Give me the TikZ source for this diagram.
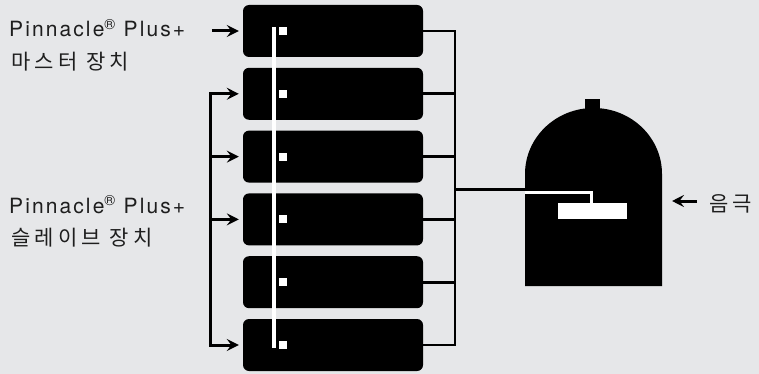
\documentclass[tikz,border=0pt]{standalone}
\usepackage{fontspec}
\setmainfont{TeX Gyre Heros}[LetterSpace=10]
\newfontfamily\kofont{Noto Sans CJK KR}[LetterSpace=20]
\usetikzlibrary{arrows.meta,positioning}
\definecolor{panel}{HTML}{E6E7E9}
\definecolor{ink}{HTML}{1E1E1E}
\tikzset{
  unit/.style={fill=black, rounded corners=6pt, minimum width=180pt, minimum height=52pt, inner sep=0pt},
  pad/.style={fill=white, minimum size=8pt, inner sep=0pt},
  feed/.style={-{Stealth[length=12pt,width=12pt,inset=4.5pt]}, line width=3pt, shorten >=4pt},
  pointer/.style={-{Stealth[length=12pt,width=12pt,inset=4.5pt]}, line width=3pt},
  wire/.style={line width=2.8pt},
  tag/.style={anchor=base west, inner sep=0pt, text=ink, font=\fontsize{21}{23}\selectfont},
  kotag/.style={anchor=base west, inner sep=0pt, text=ink, font=\kofont\fontsize{21}{23}\selectfont}
}

\begin{document}
\begin{tikzpicture}[x=1pt,y=-1pt]
  \fill[panel] (0,0) rectangle (759,374);
  \useasboundingbox (0,0) rectangle (759,374);

  % stack of units, master on top
  \foreach \i in {1,...,6}
    \node[unit] (u\i) at (333,{31+62.8*(\i-1)}) {};

  % riser running down through the stack
  \draw[white, line width=4pt] (274,27) -- (274,348);
  \foreach \i in {1,...,6}
    \node[pad] (p\i) at ([xshift=40pt]u\i.west) {};

  % bus on the right
  \coordinate (bus) at (455,0);
  \draw[wire] (u1.east) -| (u6.east -| bus) -- (u6.east);
  \foreach \i in {2,...,5}
    \draw[wire] (u\i.east) -- (u\i.east -| bus);

  % feeds on the left
  \coordinate (rail) at (210,0);
  \coordinate (mfeed) at ([xshift=-31pt]u1.west);
  \draw[feed] (mfeed) -- (u1.west);
  \draw[feed] (u6.west -| rail) |- (u2.west);
  \draw[feed] (u5.west -| rail) |- (u6.west);
  \foreach \i in {3,4}
    \draw[feed] (u\i.west -| rail) -- (u\i.west);

  % cathode
  \fill (525,286) -- (525,174) arc[start angle=180, end angle=360, x radius=68.5, y radius=66] -- (662,286) -- cycle;
  \fill (585,99) rectangle (600,110);
  \coordinate (tap) at (455,189.5);
  \coordinate (cath) at (525,189.5);
  \draw[wire] (tap) -- (cath);
  \draw[white, line width=3pt] (525,192.5) -| (591,204);
  \fill[white] (558,203) rectangle (627,219);

  % labels
  \node[tag] (masterA) at (9,37) {Pinnacle\textsuperscript{®} Plus+};
  \node[kotag] (masterB) at (11,70) {마스터 장치};
  \node[tag] (slaveA) at (9,213) {Pinnacle\textsuperscript{®} Plus+};
  \node[kotag] (slaveB) at (11,245) {슬레이브 장치};
  \node[kotag] (cathlbl) at (709,211) {음극};
  \draw[pointer] ([shift={(-12,-10)}]cathlbl.base west) -- ++(-25,0);
\end{tikzpicture}
\end{document}
